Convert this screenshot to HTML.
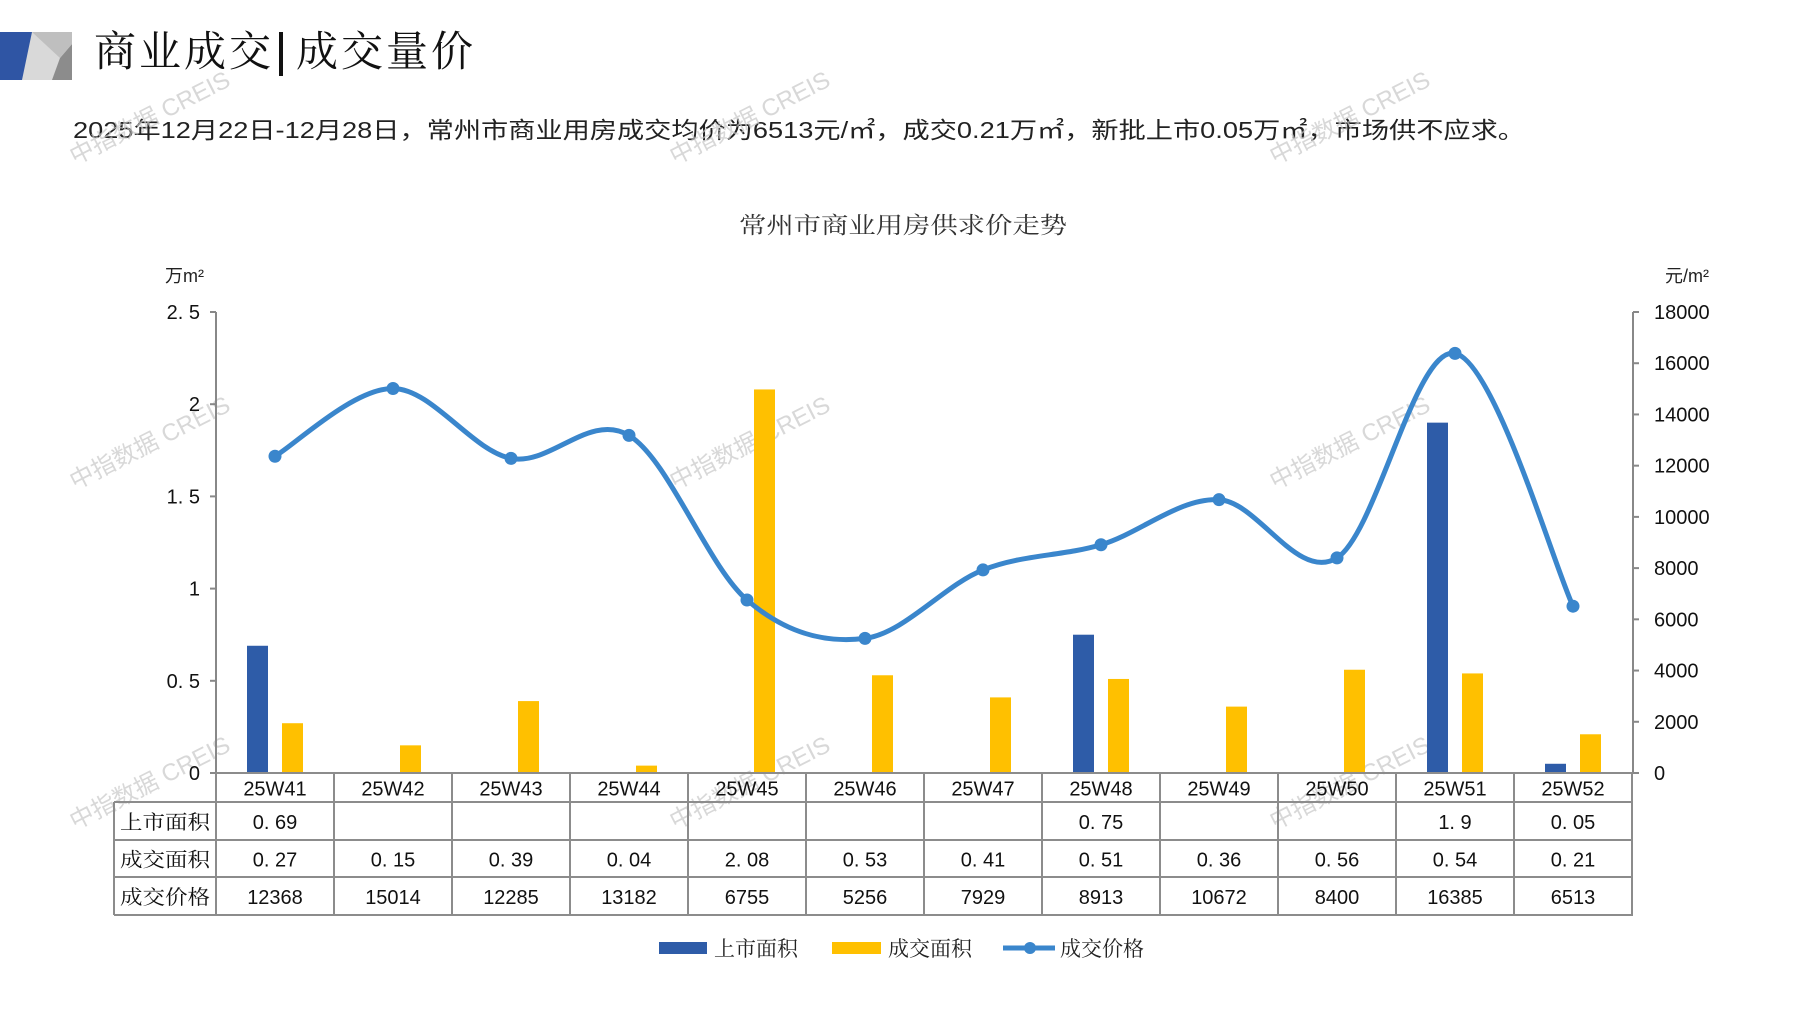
<!DOCTYPE html>
<html><head><meta charset="utf-8"><style>
html,body{margin:0;padding:0;background:#fff;}
svg{display:block;}
text{font-family:"Liberation Sans","Noto Sans CJK SC",sans-serif;}
.s{font-family:"Liberation Serif","Noto Serif CJK SC",serif;}
</style></head><body>
<svg id="c" width="1797" height="1010" viewBox="0 0 1797 1010" xmlns="http://www.w3.org/2000/svg">
<rect x="18" y="32" width="54" height="48" fill="#d9d9d9"/>
<polygon points="0,32 32,32 22,80 0,80" fill="#2f55a4"/>
<polygon points="72,44 72,80 52,80 60,58" fill="#8c8c8c"/>
<polygon points="32,32 72,32 72,44 60,58" fill="#bfbfbf"/>
<text class="s" x="94" y="66" font-size="42" fill="#111" letter-spacing="3">商业成交</text>
<rect x="279" y="32" width="4" height="44" fill="#111"/>
<text class="s" x="296" y="66" font-size="42" fill="#111" letter-spacing="3">成交量价</text>
<text x="73" y="138" font-size="23" fill="#222" textLength="1452" lengthAdjust="spacingAndGlyphs">2025年12月22日-12月28日，常州市商业用房成交均价为6513元/㎡，成交0.21万㎡，新批上市0.05万㎡，市场供不应求。</text>
<text class="s" x="739" y="233" font-size="23" fill="#333" textLength="328" lengthAdjust="spacingAndGlyphs">常州市商业用房供求价走势</text>
<text x="165" y="282" font-size="18" fill="#222">万m²</text>
<text x="1665" y="282" font-size="18" fill="#222">元/m²</text>
<g id="g"></g>
<rect x="659" y="942" width="48" height="12" fill="#2e5ca8"/>
<text class="s" x="714" y="956" font-size="21" fill="#222">上市面积</text>
<rect x="832" y="942" width="49" height="12" fill="#ffc000"/>
<text class="s" x="888" y="956" font-size="21" fill="#222">成交面积</text>
<line x1="1003" y1="948" x2="1055" y2="948" stroke="#3a86cc" stroke-width="5"/>
<circle cx="1030" cy="948" r="6" fill="#3a86cc"/>
<text class="s" x="1060" y="956" font-size="21" fill="#222">成交价格</text>
</svg>
<script>
var NS="http://www.w3.org/2000/svg",g=document.getElementById('g');
function el(t,a,txt){var e=document.createElementNS(NS,t);for(var k in a)e.setAttribute(k,a[k]);if(txt!=null)e.textContent=txt;g.appendChild(e);return e;}
var L=216,R=1633,T=312,B=773,W=118;
var weeks=["25W41","25W42","25W43","25W44","25W45","25W46","25W47","25W48","25W49","25W50","25W51","25W52"];
var sup=[0.69,null,null,null,null,null,null,0.75,null,null,1.9,0.05];
var deal=[0.27,0.15,0.39,0.04,2.08,0.53,0.41,0.51,0.36,0.56,0.54,0.21];
var price=[12368,15014,12285,13182,6755,5256,7929,8913,10672,8400,16385,6513];
var dealS=["0. 27","0. 15","0. 39","0. 04","2. 08","0. 53","0. 41","0. 51","0. 36","0. 56","0. 54","0. 21"];
var supS=["0. 69","","","","","","","0. 75","","","1. 9","0. 05"];
[[75,165],[675,165],[1275,165],[75,490],[675,490],[1275,490],[75,830],[675,830],[1275,830]].forEach(function(p){
 el('text',{x:p[0],y:p[1],'font-size':24,fill:'#c8c8c8','fill-opacity':0.7,transform:'rotate(-27 '+p[0]+' '+p[1]+')'},'中指数据 CREIS');});
el('line',{x1:L,y1:T,x2:L,y2:B,stroke:'#888','stroke-width':2});
el('line',{x1:R,y1:T,x2:R,y2:B,stroke:'#888','stroke-width':2});
var ll=["0","0. 5","1","1. 5","2","2. 5"];
for(var i=0;i<=5;i++){var y=B-i*(B-T)/5;
 el('line',{x1:L-6,y1:y,x2:L,y2:y,stroke:'#888','stroke-width':2});
 el('text',{x:L-16,y:y+7,'font-size':20,fill:'#111','text-anchor':'end'},ll[i]);}
for(var i=0;i<=9;i++){var y=B-i*(B-T)/9;
 el('line',{x1:R,y1:y,x2:R+6,y2:y,stroke:'#888','stroke-width':2});
 el('text',{x:1654,y:y+7,'font-size':20,fill:'#111'},String(i*2000));}
var k=(B-T)/2.5;
for(var i=0;i<12;i++){var cx=L+W*i+W/2;
 if(sup[i]!=null) el('rect',{x:cx-28,y:B-sup[i]*k,width:21,height:sup[i]*k,fill:'#2e5ca8'});
 el('rect',{x:cx+7,y:B-deal[i]*k,width:21,height:deal[i]*k,fill:'#ffc000'});}
var pts=price.map(function(p,i){return [L+W*i+W/2,B-p*(B-T)/18000];});
var d="M"+pts[0][0]+","+pts[0][1];
for(var i=0;i<pts.length-1;i++){var p0=pts[i-1]||pts[i],p1=pts[i],p2=pts[i+1],p3=pts[i+2]||p2;
 var c1=[p1[0]+(p2[0]-p0[0])/6,p1[1]+(p2[1]-p0[1])/6],c2=[p2[0]-(p3[0]-p1[0])/6,p2[1]-(p3[1]-p1[1])/6];
 d+=" C"+c1+" "+c2+" "+p2;}
el('path',{d:d,fill:'none',stroke:'#3a86cc','stroke-width':5});
pts.forEach(function(p){el('circle',{cx:p[0],cy:p[1],r:6.5,fill:'#3a86cc'});});
var rows=[B,802,840,877,915],TL=114;
var st={stroke:'#8c8c8c','stroke-width':2};
function ln(a,b,c,d2){var o={x1:a,y1:b,x2:c,y2:d2};for(var q in st)o[q]=st[q];el('line',o);}
ln(L,rows[0],R,rows[0]);ln(TL,rows[1],R,rows[1]);ln(TL,rows[2],R,rows[2]);ln(TL,rows[3],R,rows[3]);ln(TL,rows[4],R,rows[4]);
ln(TL,rows[1],TL,rows[4]);
for(var i=0;i<=12;i++)ln(L+W*i,rows[0],L+W*i,rows[4]);
var lab=["上市面积","成交面积","成交价格"];
for(var r=0;r<3;r++) el('text',{'class':'s',x:120,y:(rows[r+1]+rows[r+2])/2+8,'font-size':20,fill:'#111',textLength:90,lengthAdjust:'spacingAndGlyphs'},lab[r]);
for(var i=0;i<12;i++){var cx=L+W*i+W/2;
 el('text',{x:cx,y:(rows[0]+rows[1])/2+8,'font-size':20,fill:'#111','text-anchor':'middle'},weeks[i]);
 el('text',{x:cx,y:(rows[1]+rows[2])/2+8,'font-size':20,fill:'#111','text-anchor':'middle'},supS[i]);
 el('text',{x:cx,y:(rows[2]+rows[3])/2+8,'font-size':20,fill:'#111','text-anchor':'middle'},dealS[i]);
 el('text',{x:cx,y:(rows[3]+rows[4])/2+8,'font-size':20,fill:'#111','text-anchor':'middle'},String(price[i]));}
</script>
</body></html>
